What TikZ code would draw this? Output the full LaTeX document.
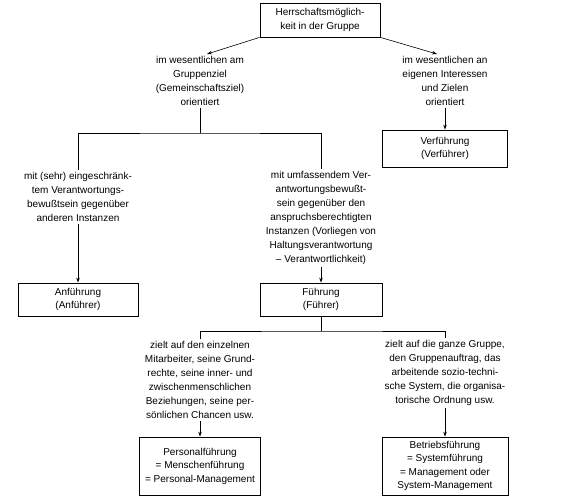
\documentclass[tikz,border=0pt]{standalone}
\usepackage{fontspec}
\setmainfont{Liberation Sans}
\usetikzlibrary{arrows.meta}
\begin{document}
\begin{tikzpicture}[x=1pt,y=-1pt,line width=0.6pt,
    box/.style={draw=black,line width=0.8pt,align=center,inner sep=2pt,font=\fontsize{10}{13.5}\selectfont},
    txt/.style={align=center,inner sep=2pt,font=\fontsize{10}{14}\selectfont},
    arr/.style={-{Stealth[length=5pt,width=3.5pt]}}]
              \useasboundingbox (0,0) rectangle (561,500);
              \node[box,minimum width=120pt,minimum height=34pt] (1) at (320,20) {Herrschaftsmöglich-\\keit in der Gruppe};
              \node[txt] (2) at (200,81) {im wesentlichen am\\Gruppenziel\\(Gemeinschaftsziel)\\orientiert};
              \node[txt] (3) at (445,81) {im wesentlichen an\\eigenen Interessen\\und Zielen\\orientiert};
              \node[box,minimum width=125pt,minimum height=37pt] (4) at (445,148.5) {Verführung\\(Verführer)};
              \node[txt] (5) at (78,197) {mit (sehr) eingeschränk-\\tem Verantwortungs-\\bewußtsein gegenüber\\anderen Instanzen};
              \node[txt] (6) at (321,218) {mit umfassendem Ver-\\antwortungsbewußt-\\sein gegenüber den\\anspruchsberechtigten\\Instanzen (Vorliegen von\\Haltungsverantwortung\\– Verantwortlichkeit)};
              \node[box,minimum width=120pt,minimum height=33pt] (7) at (78,299.5) {Anführung\\(Anführer)};
              \node[box,minimum width=122pt,minimum height=33pt] (8) at (321,299.5) {Führung\\(Führer)};
              \node[txt] (9) at (200,380) {zielt auf den einzelnen\\Mitarbeiter, seine Grund-\\rechte, seine inner- und\\zwischenmenschlichen\\Beziehungen, seine per-\\sönlichen Chancen usw.};
              \node[txt] (10) at (445,373) {zielt auf die ganze Gruppe,\\den Gruppenauftrag, das\\arbeitende sozio-techni-\\sche System, die organisa-\\torische Ordnung usw.};
              \node[box,minimum width=121pt,minimum height=58pt] (11) at (200,466) {Personalführung\\= Menschenführung\\= Personal-Management};
              \node[box,minimum width=126pt,minimum height=58pt] (12) at (445,466) {Betriebsführung\\= Systemführung\\= Management oder\\System-Management};
              \coordinate (a) at (200,133);
              \coordinate (b) at (321,331);

              \path (1.south west) edge[arr] ([xshift=7pt]2.north);
              \path (1.south east) edge[arr] ([xshift=-8pt]3.north);
              \draw (2.south) -- (a);
              \draw (5.north) |- (a) -| (6.north);
              \path (3) edge[arr] (4);
              \path (5) edge[arr] (7);
              \path (6) edge[arr] (8);
              \draw (8.south) -- (b);
              \draw (9.north) |- (b) -| (10.north);
              \path (9) edge[arr] (11);
              \path (10) edge[arr] (12);
          \end{tikzpicture}
\end{document}
